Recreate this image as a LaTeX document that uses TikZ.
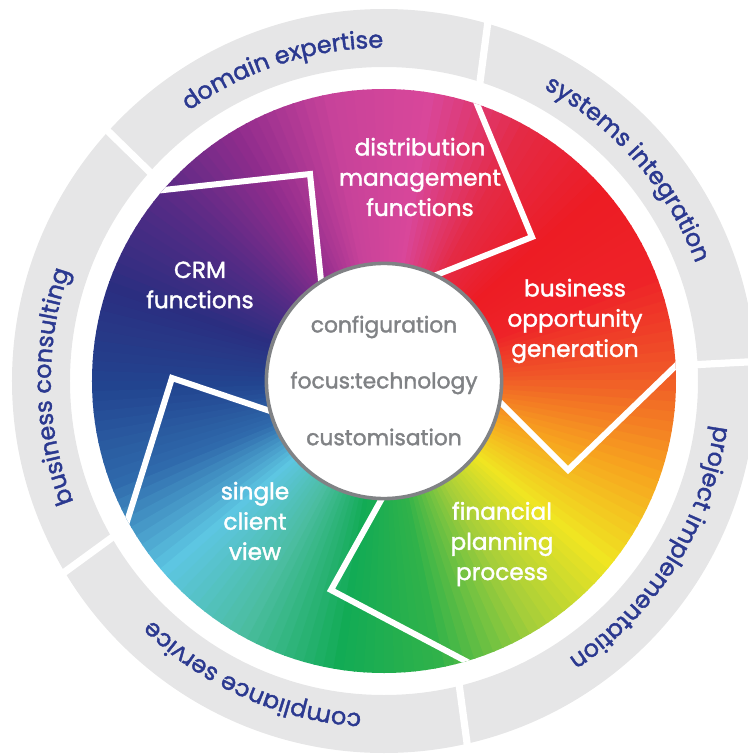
\documentclass[tikz,border=0pt]{standalone}
\usepackage{fontspec}
\setmainfont{Poppins}
\newfontfamily\heavyfont{Poppins}[FakeBold=1.6]
\usetikzlibrary{decorations.text}

% wheel colours, every 20 degrees
\definecolor{w0}{HTML}{F05A28}
\definecolor{w20}{HTML}{EE2328}
\definecolor{w40}{HTML}{ED1C24}
\definecolor{w60}{HTML}{E42A45}
\definecolor{w80}{HTML}{D9479A}
\definecolor{w100}{HTML}{C7429A}
\definecolor{w120}{HTML}{8E2C8C}
\definecolor{w140}{HTML}{552B85}
\definecolor{w160}{HTML}{2B2E80}
\definecolor{w180}{HTML}{22448F}
\definecolor{w200}{HTML}{2F6AAC}
\definecolor{w220}{HTML}{5DC6E2}
\definecolor{w240}{HTML}{4BBDA0}
\definecolor{w260}{HTML}{12AB55}
\definecolor{w280}{HTML}{30B24A}
\definecolor{w300}{HTML}{A5CE3A}
\definecolor{w320}{HTML}{F0E522}
\definecolor{w340}{HTML}{F7A21F}
\definecolor{ringgrey}{HTML}{E6E6E7}
\definecolor{ringblue}{HTML}{2B3990}
\definecolor{hubgrey}{HTML}{808285}

\newcommand\ringfont{\heavyfont\fontsize{17}{20}\selectfont}

\begin{document}
\begin{tikzpicture}[
  seglabel/.style={text=white, align=center, inner sep=0pt, font=\heavyfont\fontsize{16.5}{21.5}\selectfont},
  hublabel/.style={text=hubgrey, inner sep=0pt, font=\heavyfont\fontsize{15.5}{18}\selectfont},
  border/.style={white, line width=0.15cm},
  ringsep/.style={white, line width=0.18cm}]

\useasboundingbox (-9.6,-9.375) rectangle (9.1,9.525);

% ============ OUTER RING ============
\fill[ringgrey, even odd rule] (0,0) circle (9.3) (0,0) circle (7.85);

\draw[ringsep] (72:7.7) -- (74:9.5);
\draw[ringsep] (3:7.7) -- (3:9.5);
\draw[ringsep] (-76:7.7) -- (-77.2:9.5);
\draw[ringsep] (-150.2:7.7) -- (-149:9.5);
\draw[ringsep] (138.3:7.7) -- (137.8:9.5);

% ring labels (clockwise, letters facing out)
\path[decorate, decoration={text along path, text align=center, text color=ringblue,
  text={|\ringfont|domain expertise}}]
  (148:8.33) arc[start angle=148, end angle=68, radius=8.33];
\path[decorate, decoration={text along path, text align=center, text color=ringblue,
  text={|\ringfont|systems integration}}]
  (81:8.33) arc[start angle=81, end angle=1, radius=8.33];
\path[decorate, decoration={text along path, text align=center, text color=ringblue,
  text={|\ringfont|project implementation}}]
  (8:8.33) arc[start angle=8, end angle=-72, radius=8.33];
\path[decorate, decoration={text along path, text align=center, text color=ringblue,
  text={|\ringfont|compliance service}}]
  (-74:8.33) arc[start angle=-74, end angle=-154, radius=8.33];
\path[decorate, decoration={text along path, text align=center, text color=ringblue,
  text={|\ringfont|business consulting}}]
  (221:8.33) arc[start angle=221, end angle=141, radius=8.33];

% ============ COLOUR WHEEL ============
\begin{scope}
\clip (0,0) circle (7.3);
\foreach \a/\ca/\cb in {0/w0/w20, 20/w20/w40, 40/w40/w60, 60/w60/w80, 80/w80/w100,
    100/w100/w120, 120/w120/w140, 140/w140/w160, 160/w160/w180, 180/w180/w200,
    200/w200/w220, 220/w220/w240, 240/w240/w260, 260/w260/w280, 280/w280/w300,
    300/w300/w320, 320/w320/w340, 340/w340/w0}{
  \foreach \k in {0,...,9}{
    \pgfmathtruncatemacro\p{100-10*\k}
    \fill[\ca!\p!\cb] (0,0) -- (\a+2*\k:7.4)
      arc[start angle=\a+2*\k, end angle=\a+2*\k+2.3, radius=7.4] -- cycle;
  }
}

% white chevron borders between the five parts
\draw[border] (-5.85,4.7375) -- (-1.85,5.175) -- (-1.55,2.275);
\draw[border] (2.1875,7.2575) -- (3.7,3.6) -- (0.9,2.4875);
\draw[border] (7.6,0.675) -- (4.6,-2.225) -- (2.65,-0.275);
\draw[border] (2.325,-7.15) -- (-1.325,-5.225) -- (0.15,-2.575);
\draw[border] (-6.475,-3.675) -- (-5.3,0.075) -- (-2.475,-0.875);
\end{scope}

% ============ CENTRE ============
\node[circle, draw=hubgrey, line width=0.09cm, fill=white, inner sep=0pt,
  minimum size=5.88cm] (hub) at (0,0) {};
\node[hublabel] (config) at (0,1.35) {configuration};
\node[hublabel] (focus) at (0,-0.05) {focus:technology};
\node[hublabel] (custom) at (0,-1.4) {customisation};

% ============ PART LABELS ============
\node[seglabel] (distrib) at (0.9,5.1) {distribution\\management\\functions};
\node[seglabel] (crm) at (-4.6,2.4) {CRM\\functions};
\node[seglabel] (bizopp) at (4.775,1.5) {business\\opportunity\\generation};
\node[seglabel] (finplan) at (2.95,-4.075) {financial\\planning\\process};
\node[seglabel] (single) at (-3.225,-3.5) {single\\client\\view};

\end{tikzpicture}
\end{document}
